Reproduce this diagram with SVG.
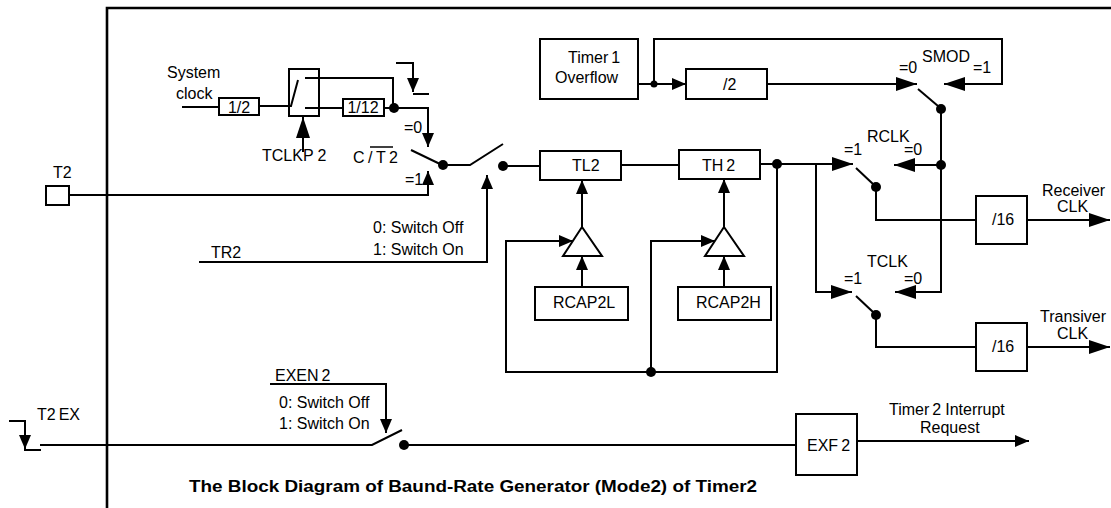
<svg xmlns="http://www.w3.org/2000/svg" width="1111" height="508" viewBox="0 0 1111 508">
<style>
.ln{stroke:#000;stroke-width:2;fill:none}
.fr{stroke:#000;stroke-width:2.6;fill:none}
.box{fill:#fff;stroke:#000;stroke-width:2}
.t{font-family:"Liberation Sans",Arial,sans-serif;font-size:16px;fill:#000}
.tb{font-family:"Liberation Sans",Arial,sans-serif;font-size:16px;font-weight:bold;fill:#000}
.m{text-anchor:middle}
.dot{fill:#000}
.as{marker-end:url(#as)}
.al{marker-end:url(#al)}
</style>
<defs>
<marker id="as" viewBox="0 0 14 12" refX="14" refY="6" markerWidth="14" markerHeight="12" markerUnits="userSpaceOnUse" orient="auto"><path d="M0,0 L14,6 L0,12 z" fill="#000"/></marker>
<marker id="al" viewBox="0 0 21 14" refX="21" refY="7" markerWidth="21" markerHeight="14" markerUnits="userSpaceOnUse" orient="auto"><path d="M0,0 L21,7 L0,14 z" fill="#000"/></marker>
</defs>
<rect x="0" y="0" width="1111" height="508" fill="#fff"/>
<path class="fr" d="M107,508 V8 H1111"/>

<g id="connectors">
<path class="ln" d="M182,107 H219"/>
<path class="ln" d="M259,106 H291"/>
<path class="ln" d="M305,78 H393 V108"/>
<path class="ln" d="M305,108 H343"/>
<path class="ln as" d="M384,108 H428 V147"/>
<path class="ln al" d="M303,152 V117"/>
<path class="ln as" d="M396,63 H413 V92"/>
<path class="ln" d="M413,94 H429"/>
<path class="ln as" d="M69,195 H428 V171"/>
<path class="ln" d="M411,150 L440,164"/>
<path class="ln" d="M443,165 H470 L503,144"/>
<path class="ln" d="M503,166 H540"/>
<path class="ln as" d="M199,262 H487 V175"/>
<path class="ln" d="M621,165 H679"/>
<path class="ln as" d="M638,84 H686"/>
<path class="ln al" d="M654,84 V39 H1002 V84 H944"/>
<path class="ln al" d="M767,84 H917"/>
<path class="ln" d="M918,89 L938,106"/>
<path class="ln al" d="M941,109 V292 H895"/>
<path class="ln al" d="M941,165 H894"/>
<path class="ln al" d="M760,164 H853"/>
<path class="ln al" d="M816,164 V292 H852"/>
<path class="ln" d="M856,168 L873,184"/>
<path class="ln" d="M876,187 V220 H976"/>
<path class="ln al" d="M1027,220 H1110"/>
<path class="ln" d="M856,296 L873,312"/>
<path class="ln" d="M876,315 V347 H976"/>
<path class="ln al" d="M1027,347 H1110"/>
<path class="ln as" d="M777,164 V372 H506 V241 H573"/>
<path class="ln as" d="M651,372 V241 H715"/>
<path class="ln as" d="M582,227 V180"/>
<path class="ln as" d="M724,227 V179"/>
<path class="ln as" d="M582,287 V256"/>
<path class="ln as" d="M724,287 V256"/>
<path class="ln as" d="M9,421 H25 V449"/>
<path class="ln" d="M24,450 H41"/>
<path class="ln" d="M40,445 H372 L402,430"/>
<path class="ln" d="M404,445 H796"/>
<path class="ln as" d="M270,384 H386 V433"/>
<path class="ln as" d="M857,441 H1029"/>
<circle class="dot" cx="394" cy="108" r="5"/>
<circle class="dot" cx="443" cy="165" r="5"/>
<circle class="dot" cx="503" cy="166" r="5"/>
<circle class="dot" cx="654" cy="84" r="3.5"/>
<circle class="dot" cx="941" cy="109" r="5"/>
<circle class="dot" cx="941" cy="165" r="5"/>
<circle class="dot" cx="777" cy="164" r="5"/>
<circle class="dot" cx="876" cy="187" r="5"/>
<circle class="dot" cx="876" cy="315" r="5"/>
<circle class="dot" cx="651" cy="372" r="5"/>
<circle class="dot" cx="404" cy="445" r="5"/>
</g>

<g id="sysclk"><text class="t" x="167" y="78">System</text><text class="t" x="176" y="99">clock</text></g>
<g id="div2a"><rect class="box" x="219" y="98" width="40" height="17"/><text class="t m" x="239" y="113">1/2</text></g>
<g id="clksel"><rect class="box" x="289" y="69" width="30" height="47"/><path class="ln" d="M289,106 H291 L298,80"/><path class="ln" d="M305,78 H319 M305,108 H319"/></g>
<g id="div12"><rect class="box" x="343" y="99" width="41" height="17"/><text class="t m" x="363" y="113">1/12</text></g>
<g id="tclkp2"><text class="t" x="262" y="161">TCLKP<tspan dx="4">2</tspan></text></g>
<g id="ct2"><text class="t" y="163"><tspan x="353">C</tspan><tspan x="368">/</tspan><tspan x="376">T</tspan><tspan x="389">2</tspan></text><line class="ln" x1="370" y1="147" x2="393" y2="147" style="stroke-width:1.5"/>
<text class="t" x="404" y="133">=0</text><text class="t" x="405" y="185">=1</text></g>
<g id="t2"><rect class="box" x="46" y="186" width="23" height="19"/><text class="t" x="53" y="178">T2</text></g>
<g id="tr2"><text class="t" x="211" y="258">TR2</text><text class="t" x="373" y="233">0: Switch Off</text><text class="t" x="373" y="255">1: Switch On</text></g>
<g id="timer1"><rect class="box" x="540" y="39" width="98" height="60"/><text class="t" x="568" y="63">Timer<tspan dx="3">1</tspan></text><text class="t" x="555" y="83">Overflow</text></g>
<g id="div2b"><rect class="box" x="686" y="69" width="81" height="30"/><text class="t" x="723" y="90">/2</text></g>
<g id="smod"><text class="t" x="899" y="73">=0</text><text class="t" x="922" y="62">SMOD</text><text class="t" x="973" y="73">=1</text></g>
<g id="tl2"><rect class="box" x="540" y="151" width="81" height="29"/><text class="t" x="572" y="171">TL2</text></g>
<g id="th2"><rect class="box" x="679" y="150" width="81" height="29"/><text class="t" x="702" y="171">TH<tspan dx="3">2</tspan></text></g>
<g id="buf1"><polygon class="box" points="582,227 563,256 602,256"/></g>
<g id="buf2"><polygon class="box" points="724,227 705,256 744,256"/></g>
<g id="rcap2l"><rect class="box" x="535" y="287" width="93" height="33"/><text class="t" x="553" y="308">RCAP2L</text></g>
<g id="rcap2h"><rect class="box" x="678" y="287" width="93" height="33"/><text class="t" x="696" y="308">RCAP2H</text></g>
<g id="rclk"><text class="t" x="867" y="142">RCLK</text><text class="t" x="844" y="155">=1</text><text class="t" x="904" y="155">=0</text></g>
<g id="tclk"><text class="t" x="867" y="267">TCLK</text><text class="t" x="844" y="284">=1</text><text class="t" x="904" y="284">=0</text></g>
<g id="div16r"><rect class="box" x="976" y="196" width="51" height="48"/><text class="t" x="992" y="225">/16</text></g>
<g id="div16t"><rect class="box" x="976" y="323" width="51" height="48"/><text class="t" x="992" y="352">/16</text></g>
<g id="rxclk"><text class="t" x="1042" y="196">Receiver</text><text class="t" x="1057" y="212">CLK</text></g>
<g id="txclk"><text class="t" x="1040" y="322">Transiver</text><text class="t" x="1057" y="339">CLK</text></g>
<g id="t2ex"><text class="t" x="37" y="420">T2<tspan dx="3">EX</tspan></text></g>
<g id="exen2"><text class="t" x="275" y="381">EXEN<tspan dx="3">2</tspan></text><text class="t" x="279" y="408">0: Switch Off</text><text class="t" x="279" y="429">1: Switch On</text></g>
<g id="exf2"><rect class="box" x="796" y="414" width="61" height="61"/><text class="t" x="807" y="451">EXF<tspan dx="3">2</tspan></text></g>
<g id="irq"><text class="t" x="889" y="415">Timer<tspan dx="3">2</tspan><tspan dx="4">Interrupt</tspan></text><text class="t" x="920" y="433">Request</text></g>
<g id="title"><text class="tb" x="189" y="492" textLength="568" lengthAdjust="spacingAndGlyphs">The Block Diagram of Baund-Rate Generator (Mode2) of Timer2</text></g>
</svg>
